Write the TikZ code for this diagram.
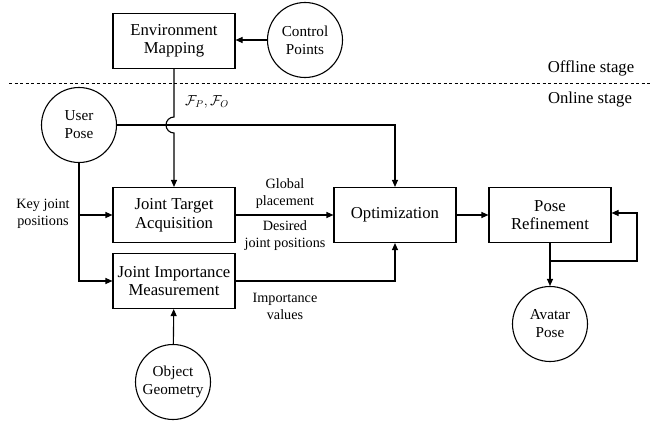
\documentclass[tikz,border=0pt]{standalone}
\usepackage{fontspec}
\setmainfont{Liberation Serif}
\usetikzlibrary{arrows.meta, positioning, calc}

\begin{document}
\begin{tikzpicture}[x=1pt, y=-1pt,
    box/.style={
      draw, line width=1.1pt, minimum width=122pt, minimum height=55pt,
      align=center, inner sep=0pt, font=\fontsize{16.7}{18.5}\selectfont
    },
    circ/.style={
      draw, circle, line width=1.1pt, minimum size=75pt,
      align=center, inner sep=0pt, font=\fontsize{15.2}{18}\selectfont
    },
    arrow/.style={-{Triangle[length=7pt, width=6pt]}, line width=1.1pt},
    lbl/.style={align=center, inner sep=0pt, font=\fontsize{14.2}{17}\selectfont},
    stage/.style={inner sep=0pt, font=\fontsize{16.7}{18}\selectfont}
  ]
  \useasboundingbox (0,0) rectangle (665,423);

  \node[box] (envmap) at (174,41) {Environment\\Mapping};
  \node[circ] (ctrl) at (305,40) {Control\\Points};
  \node[circ] (user) at (79,125) {User\\Pose};
  \node[box] (target) at (174,215) {Joint Target\\Acquisition};
  \node[box] (importance) at (174,281) {Joint Importance\\Measurement};
  \node[circ] (object) at (173,382) {Object\\Geometry};
  \node[box] (optim) at (395,215) {Optimization};
  \node[box] (refine) at (550,215) {Pose\\Refinement};
  \node[circ] (avatar) at (550,324) {Avatar\\Pose};

  % stage separator
  \coordinate (sepl) at (9,83);
  \coordinate (sepr) at (650,83);
  \draw[dash pattern=on 3pt off 2.5pt, line width=0.9pt] (sepl) -- (sepr);
  \node[stage] (offline) at (591,68) {Offline stage};
  \node[stage] (online) at (590,100) {Online stage};

  \node[lbl] (fpfo) at (207,102) {$\mathcal{F}_P,\mathcal{F}_O$};
  \node[lbl] (keyjoint) at (43,214) {Key joint\\positions};
  \node[lbl] (global) at (285,194) {Global\\placement};
  \node[lbl] (desired) at (285,236) {Desired\\joint positions};
  \node[lbl] (impval) at (285,306) {Importance\\values};

  \draw[arrow] (ctrl.west) -- (ctrl.west -| envmap.east);

  \coordinate (jump) at (envmap.south |- user.east);
  \draw[arrow] (envmap.south) -- ([yshift=8pt]jump)
    arc[start angle=270, end angle=90, radius=8] -- (target.north);

  \draw[arrow] (user.east) -| (optim.north);
  \draw[arrow] (user.south) |- (importance.west);
  \draw[arrow] (user.south |- target.west) -- (target.west);

  \draw[arrow] (target) -- (optim);
  \draw[arrow] (importance.east) -| (optim.south);
  \draw[arrow] (object) -- (importance);
  \draw[arrow] (optim) -- (refine);
  \draw[arrow] (refine) -- (avatar);

  \coordinate (loop) at (637,261);
  \draw[arrow] (refine.south |- loop) -- (loop) |- ([yshift=2pt]refine.east);
\end{tikzpicture}
\end{document}
